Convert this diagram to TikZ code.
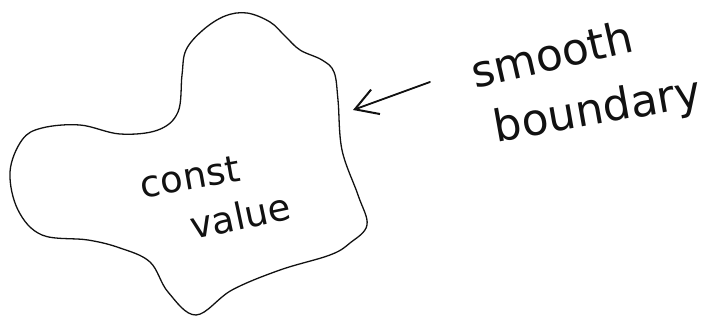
\documentclass[tikz,border=0pt]{standalone}
\usepackage{fontspec}
\newfontfamily\scrawlfont{DejaVu Sans}
\usetikzlibrary{arrows.meta}
\definecolor{inkdark}{HTML}{111111}

\begin{document}
\begin{tikzpicture}[
    x=1pt, y=-1pt,
    ink/.style={line width=1.3pt, inkdark, line cap=round, line join=round},
    scrawl/.style={font=\scrawlfont\fontsize{37}{42}\selectfont, inkdark, inner sep=0pt},
    bigscrawl/.style={scrawl, font=\scrawlfont\fontsize{44}{50}\selectfont},
    >={Straight Barb[length=22pt, width=26pt, line width=2pt]}
]

% 1. Frame (keeps the page at 721 x 326)
\useasboundingbox (0,0) rectangle (721,326);

% 2. Region with constant value
\draw[ink] plot[smooth cycle, tension=0.6] coordinates {
    (247,13) (270,22) (285,36) (300,50) (322,60) (334,72)
    (338,100) (342,150) (358,195) (367,225) (350,243) (330,255)
    (280,270) (232,290) (196,315) (168,292) (150,262) (120,248)
    (88,240) (42,235) (18,210) (10,172) (22,140) (42,128)
    (80,125) (120,134) (158,130) (178,112) (182,75) (186,50)
    (203,30) (225,16)
};

% 3. Label inside
\node[scrawl, rotate=10] (const) at (190,177) {const};
\node[scrawl, rotate=12] (value) at (240,216) {value};

% 4. Label outside
\node[bigscrawl, rotate=13] (smooth) at (552,54) {smooth};
\node[bigscrawl, rotate=10] (bound) at (598,112) {boundary};

% 5. Pointer to the boundary
\coordinate (ArrTail) at (430,82);
\coordinate (ArrHead) at (353,110);
\draw[->, ink, line width=1.8pt] (ArrTail) -- (ArrHead);

\end{tikzpicture}
\end{document}
